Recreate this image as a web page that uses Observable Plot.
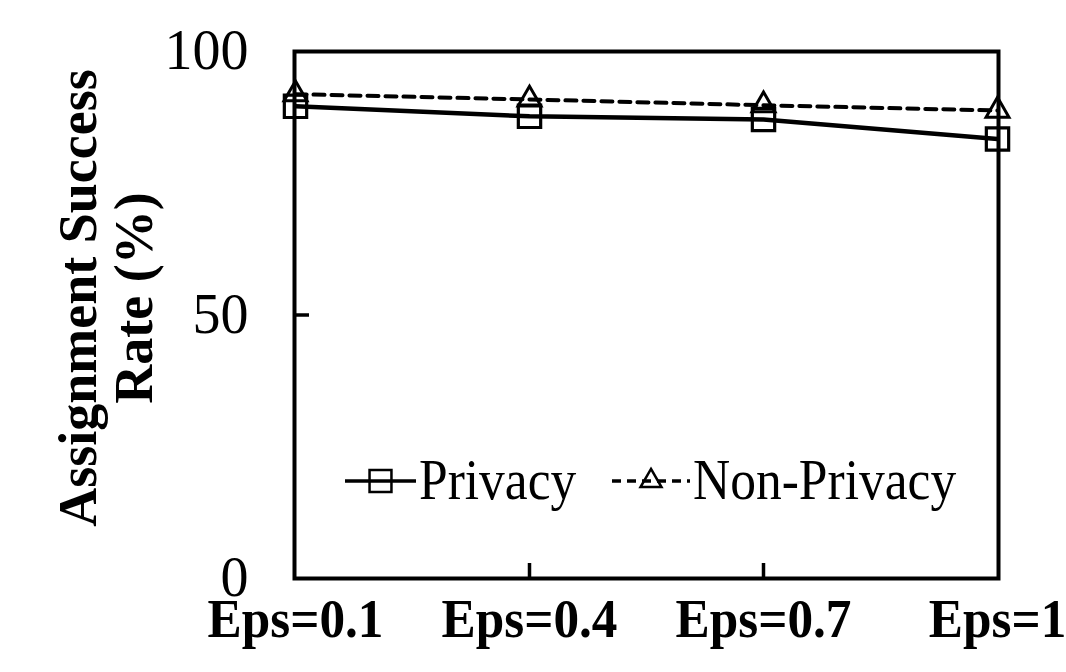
<!DOCTYPE html>
<html>
<head>
<meta charset="utf-8">
<script src="https://cdn.jsdelivr.net/npm/d3@7"></script>
<script src="https://cdn.jsdelivr.net/npm/@observablehq/plot@0.6"></script>
<style>
  html, body { margin: 0; padding: 0; background: #fff; }
  #chart { position: relative; width: 1066px; height: 672px; }
  #chart svg { display: block; }
</style>
</head>
<body>
<div id="chart"></div>
<script>
// Privacy budget settings along the x axis
const epsilons = ["Eps=0.1", "Eps=0.4", "Eps=0.7", "Eps=1"];
// Assignment success rate (%) per setting
const privacy = [89.6, 87.7, 87.1, 83.4];
const nonPrivacy = [91.9, 90.9, 89.8, 88.8];
// Value axis ticks
const yTicks = [0, 50, 100];
const seriesNames = ["Privacy", "Non-Privacy"];

const serif = "'Liberation Serif', 'Times New Roman', serif";

const privRows = epsilons.map((eps, i) => ({eps, series: seriesNames[0], rate: privacy[i]}));
const nonPrivRows = epsilons.map((eps, i) => ({eps, series: seriesNames[1], rate: nonPrivacy[i]}));

const chart = Plot.plot({
  width: 1066,
  height: 672,
  marginLeft: 294,
  marginRight: 68,
  marginTop: 51,
  marginBottom: 94,
  style: {fontFamily: serif, color: "#000", background: "#fff", overflow: "visible"},
  x: {type: "point", domain: epsilons, padding: 0},
  y: {domain: [0, 100]},
  marks: [
    // value axis labels and inward tick
    Plot.axisY({ticks: yTicks, tickSize: 0, tickPadding: 46, fontSize: 56, label: null}),
    Plot.axisY({ticks: [50], tickSize: 15, dx: 15, text: null, strokeWidth: 3.5, label: null}),
    // category axis labels and inward ticks
    Plot.axisX({tickSize: 0, tickPadding: 20, fontSize: 54, fontWeight: "bold", label: null}),
    Plot.axisX({ticks: epsilons.slice(1, -1), tickSize: 15, dy: -15, text: null, strokeWidth: 3.5, label: null}),
    // series
    Plot.line(nonPrivRows, {x: "eps", y: "rate", stroke: "#000", strokeWidth: 4, strokeDasharray: "11,7"}),
    Plot.line(privRows, {x: "eps", y: "rate", stroke: "#000", strokeWidth: 4.5}),
    Plot.dot(privRows, {x: "eps", y: "rate", symbol: "square", r: 12.6, fill: "none", stroke: "#000", strokeWidth: 3.2}),
    Plot.dot(nonPrivRows, {x: "eps", y: "rate", symbol: "triangle", r: 8.5, fill: "none", stroke: "#000", strokeWidth: 3}),
    Plot.frame({stroke: "#000", strokeWidth: 4}),
    // two-line rotated y title
    Plot.text(["Assignment Success"], {frameAnchor: "left", rotate: -90, lineAnchor: "bottom", textAnchor: "middle",
      dx: -199, dy: -17, fontSize: 54, fontWeight: "bold", fill: "#000"}),
    Plot.text(["Rate (%)"], {frameAnchor: "left", rotate: -90, lineAnchor: "bottom", textAnchor: "middle",
      dx: -143, dy: -17, fontSize: 54, fontWeight: "bold", fill: "#000"})
  ]
});

document.getElementById("chart").appendChild(chart);

const svg = d3.select(chart);

// slightly narrower glyphs for the category labels
svg.selectAll('g[aria-label="x-axis tick label"] text')
  .attr("transform", function () { return `${this.getAttribute("transform") || ""} scale(0.95,1)`; });

// in-plot legend
const lg = svg.append("g").attr("fill", "none").attr("stroke", "#000");
const legendItems = [
  {name: seriesNames[0], x0: 345, x1: 416, dash: null, symbol: d3.symbolSquare, size: 480},
  {name: seriesNames[1], x0: 612, x1: 690, dash: "9,6", symbol: d3.symbolTriangle, size: 190}
];
const legendY = 481;
for (const it of legendItems) {
  lg.append("line")
    .attr("x1", it.x0).attr("x2", it.x1).attr("y1", legendY).attr("y2", legendY)
    .attr("stroke-width", 3.5).attr("stroke-dasharray", it.dash);
  lg.append("path")
    .attr("d", d3.symbol(it.symbol, it.size)())
    .attr("transform", `translate(${(it.x0 + it.x1) / 2},${legendY})`)
    .attr("stroke-width", 2.5).attr("fill", "none");
  svg.append("text")
    .attr("transform", `translate(${it.x1 + 3},${legendY + 18}) scale(0.92,1)`)
    .attr("text-anchor", "start")
    .attr("font-family", serif).attr("font-size", 56).attr("fill", "#000")
    .text(it.name);
}
</script>
</body>
</html>
